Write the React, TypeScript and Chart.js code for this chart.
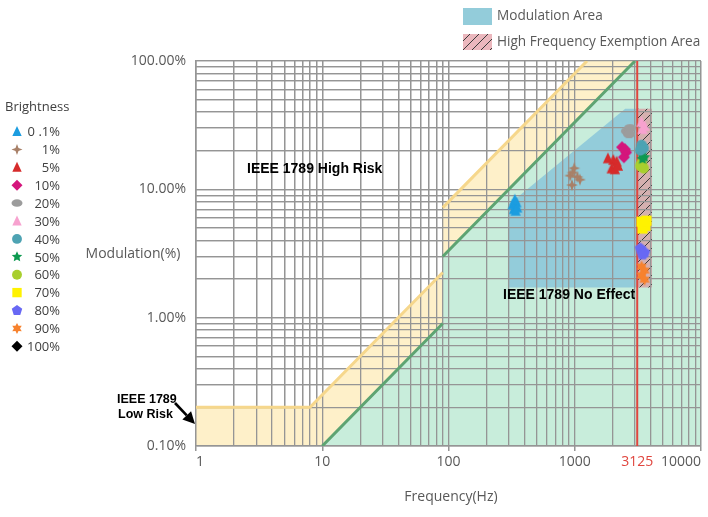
import React, { useEffect, useRef } from 'react';
import { Chart, registerables } from 'chart.js';

Chart.register(...registerables);

// ---------- axes ----------
const FREQ_GRID = [1, 2, 3, 4, 5, 6, 7, 8, 9, 10, 20, 30, 40, 50, 60, 70, 80, 90, 100, 200, 300, 400, 500, 600, 700, 800, 900, 1000, 2000, 3000, 4000, 5000, 6000, 7000, 8000, 9000, 10000];
const FREQ_LABELS = [1, 10, 100, 1000, 3125, 10000];
const EXEMPT_FREQ = 3125;
const MOD_GRID = [0.1, 0.2, 0.3, 0.4, 0.5, 0.6, 0.7, 0.8, 0.9, 1, 2, 3, 4, 5, 6, 7, 8, 9, 10, 20, 30, 40, 50, 60, 70, 80, 90, 100];
const MOD_LABELS = [0.1, 1, 10, 100];

// ---------- IEEE 1789 boundaries ----------
const lowRiskFreq = [1, 8, 90, 90, 90, 1250];
const lowRiskMod = [0.2, 0.2, 2.25, null, 7.2, 100];
const noEffectFreq = [10, 90, 90, 90, 3000];
const noEffectMod = [0.1, 0.9, null, 3, 100];
const lowRiskAreaFreq = [1, 8, 90, 90, 1250, 10000];
const lowRiskAreaMod = [0.2, 0.2, 2.25, 7.2, 100, 100];
const noEffectAreaFreq = [10, 90, 90, 3000, 10000];
const noEffectAreaMod = [0.1, 0.9, 3, 100, 100];
const exemptLineFreq = [3125, 3125];
const exemptLineMod = [0.1, 100];

// ---------- highlighted areas ----------
const modAreaFreq = [295, 2510, 3125];
const modAreaTop = [7.5, 42.5, 42.5];
const modAreaBottom = 1.72;
const exemptAreaFreq = [3125, 4100];
const exemptAreaTop = [42.5, 42.5];

// ---------- measured points [frequency Hz, modulation %] ----------
const b0_1 = [[322, 7.6], [335, 8.3], [345, 7.9], [330, 7.0], [350, 7.2], [340, 6.8]];
const b1 = [[990, 14.6], [920, 12.8], [1100, 11.9], [950, 10.8], [960, 13.5], [1050, 12.5]];
const b5 = [[1830, 17.4], [2020, 16.9], [2150, 16.4], [1960, 14.5], [2080, 14.3], [2200, 15.2]];
const b10 = [[2370, 21.3], [2550, 19.4], [2450, 17.8], [2500, 20.5]];
const b20 = [[2590, 28.4], [2740, 30.0], [2690, 26.9]];
const b30 = [[3380, 33.4], [3570, 31.1], [3440, 29.4]];
const b40 = [[3380, 22.1], [3510, 20.9], [3310, 20.2]];
const b50 = [[3380, 18.8], [3570, 17.8], [3440, 17.2]];
const b60 = [[3380, 16.0], [3510, 14.6], [3310, 15.2]];
const b70 = [[3380, 5.6], [3630, 5.2], [3440, 4.95], [3700, 5.7]];
const b80 = [[3310, 3.46], [3570, 3.22], [3440, 3.1]];
const b90 = [[3380, 2.5], [3570, 2.33], [3380, 2.13], [3570, 1.98]];
const b100: number[][] = [];

const brightnessLabels = ['0 .1%', '1%', '5%', '10%', '20%', '30%', '40%', '50%', '60%', '70%', '80%', '90%', '100%'];
const brightnessSeries = [b0_1, b1, b5, b10, b20, b30, b40, b50, b60, b70, b80, b90, b100];
const brightnessColors = ['#1C9DE0', '#A88068', '#D62B2B', '#D4157C', '#9C9C9C', '#F7A2CF', '#4EA3B3', '#0E9A50', '#A8CF2E', '#FFF200', '#6868F4', '#F7822E', '#000000'];
const brightnessShapes = ['triangle', 'star4', 'triangle', 'diamond', 'ellipse', 'triangle', 'circle', 'star5', 'circle', 'square', 'pentagon', 'star6', 'diamond'];

// ---------- styles ----------
const GRID = '#959595';
const YELLOW_FILL = '#FEF0C9';
const YELLOW_LINE = '#F6D78C';
const MINT = '#C8EDDB';
const GREEN_LINE = '#5EA472';
const BLUE = '#93CCDA';
const RED = '#E0463F';
const TEXT = '#595959';

const zip = (xs: number[], ys: (number | null)[]) => xs.map((x, i) => ({ x, y: ys[i] }));

function drawShape(ctx: CanvasRenderingContext2D, shape: string, cx: number, cy: number, s: number, color: string) {
  const r = s / 2;
  ctx.save();
  ctx.fillStyle = color;
  ctx.beginPath();
  const star = (n: number, inner: number) => {
    for (let i = 0; i < n * 2; i++) {
      const a = -Math.PI / 2 + (i * Math.PI) / n;
      const rr = i % 2 === 0 ? r : r * inner;
      const px = cx + rr * Math.cos(a);
      const py = cy + rr * Math.sin(a);
      if (i === 0) ctx.moveTo(px, py);
      else ctx.lineTo(px, py);
    }
  };
  switch (shape) {
    case 'triangle':
      ctx.moveTo(cx, cy - r);
      ctx.lineTo(cx + r * 0.85, cy + r * 0.8);
      ctx.lineTo(cx - r * 0.85, cy + r * 0.8);
      break;
    case 'diamond':
      ctx.moveTo(cx, cy - r);
      ctx.lineTo(cx + r, cy);
      ctx.lineTo(cx, cy + r);
      ctx.lineTo(cx - r, cy);
      break;
    case 'ellipse':
      ctx.ellipse(cx, cy, r, r * 0.68, 0, 0, Math.PI * 2);
      break;
    case 'circle':
      ctx.arc(cx, cy, r * 0.9, 0, Math.PI * 2);
      break;
    case 'square':
      ctx.rect(cx - r * 0.85, cy - r * 0.85, r * 1.7, r * 1.7);
      break;
    case 'pentagon':
      for (let i = 0; i < 5; i++) {
        const a = -Math.PI / 2 + (i * 2 * Math.PI) / 5;
        const px = cx + r * Math.cos(a);
        const py = cy + r * Math.sin(a);
        if (i === 0) ctx.moveTo(px, py);
        else ctx.lineTo(px, py);
      }
      break;
    case 'star4':
      star(4, 0.38);
      break;
    case 'star5':
      star(5, 0.48);
      break;
    case 'star6':
      star(6, 0.55);
      break;
  }
  ctx.closePath();
  ctx.fill();
  ctx.restore();
}

function makeIcon(shape: string, color: string, size: number) {
  const c = document.createElement('canvas');
  c.width = size + 2;
  c.height = size + 2;
  const ctx = c.getContext('2d')!;
  drawShape(ctx, shape, c.width / 2, c.height / 2, size, color);
  return c;
}

function makeHatch(ctx: CanvasRenderingContext2D) {
  const c = document.createElement('canvas');
  c.width = 9;
  c.height = 9;
  const p = c.getContext('2d')!;
  p.fillStyle = 'rgba(222,135,145,0.6)';
  p.fillRect(0, 0, 9, 9);
  p.strokeStyle = '#3a3a3a';
  p.lineWidth = 1;
  p.beginPath();
  p.moveTo(-1, 10);
  p.lineTo(10, -1);
  p.stroke();
  return ctx.createPattern(c, 'repeat')!;
}

export default function App() {
  const ref = useRef<HTMLCanvasElement>(null);

  useEffect(() => {
    const canvas = ref.current!;
    const ctx0 = canvas.getContext('2d')!;
    const hatch = makeHatch(ctx0);

    const pointSets = brightnessSeries.map((pts, i) => ({
      type: 'line' as const,
      label: brightnessLabels[i],
      data: pts.map(([x, y]) => ({ x, y })),
      showLine: false,
      pointStyle: makeIcon(brightnessShapes[i], brightnessColors[i], 12),
      pointRadius: 6,
      backgroundColor: brightnessColors[i],
      borderColor: brightnessColors[i],
      order: 0,
    }));

    const overlayPlugin = {
      id: 'overlay',
      afterDatasetDraw(chart: any, args: any) {
        if (args.index === 3) {
          chart.scales.x.drawGrid(chart.chartArea);
          chart.scales.y.drawGrid(chart.chartArea);
          chart.scales.x.drawBorder();
          chart.scales.y.drawBorder();
        }
      },
      afterDraw(chart: any) {
        const ctx: CanvasRenderingContext2D = chart.ctx;
        ctx.save();
        ctx.textBaseline = 'middle';
        ctx.font = '14px "Open Sans"';
        ctx.fillStyle = TEXT;
        ctx.textAlign = 'center';
        ctx.fillText('Modulation(%)', 133, 254);
        ctx.fillText('Frequency(Hz)', 451, 497);

        // top legend
        ctx.fillStyle = BLUE;
        ctx.fillRect(463, 8, 29, 17);
        ctx.fillStyle = hatch;
        ctx.fillRect(463, 34, 29, 16);
        ctx.font = '13.6px "Open Sans"';
        ctx.fillStyle = TEXT;
        ctx.textAlign = 'left';
        ctx.fillText('Modulation Area', 497, 16);
        ctx.fillText('High Frequency Exemption Area', 497, 42);

        // brightness legend
        ctx.font = '13px "Open Sans"';
        ctx.fillStyle = '#404040';
        ctx.fillText('Brightness', 5, 107);
        brightnessLabels.forEach((lab, i) => {
          const y = 131.5 + i * 17.9;
          drawShape(ctx, brightnessShapes[i], 17, y, 11, brightnessColors[i]);
          ctx.fillStyle = '#404040';
          ctx.textAlign = 'right';
          ctx.fillText(lab, 60, y + 1);
        });

        // annotations
        ctx.fillStyle = '#000';
        ctx.textAlign = 'left';
        ctx.font = 'bold 14px "Liberation Sans", Arial, sans-serif';
        ctx.fillText('IEEE 1789 High Risk', 247, 169);
        ctx.fillText('IEEE 1789 No Effect', 503, 295);
        ctx.font = 'bold 12.5px "Liberation Sans", Arial, sans-serif';
        ctx.fillText('IEEE 1789', 117, 400);
        ctx.fillText('Low Risk', 118, 415);

        // arrow
        const x1 = 175, y1 = 403, x2 = 195, y2 = 424;
        const dx = x2 - x1, dy = y2 - y1;
        const len = Math.hypot(dx, dy);
        const ux = dx / len, uy = dy / len;
        const hl = 12, hw = 6;
        ctx.strokeStyle = '#000';
        ctx.lineWidth = 2.6;
        ctx.beginPath();
        ctx.moveTo(x1, y1);
        ctx.lineTo(x2 - ux * hl, y2 - uy * hl);
        ctx.stroke();
        ctx.beginPath();
        ctx.moveTo(x2, y2);
        ctx.lineTo(x2 - ux * hl - uy * hw, y2 - uy * hl + ux * hw);
        ctx.lineTo(x2 - ux * hl + uy * hw, y2 - uy * hl - ux * hw);
        ctx.closePath();
        ctx.fill();
        ctx.restore();
      },
    };

    const chart = new Chart(canvas, {
      type: 'line',
      data: {
        datasets: [
          { type: 'line', label: 'lowRiskArea', data: zip(lowRiskAreaFreq, lowRiskAreaMod), fill: 'start', backgroundColor: YELLOW_FILL, borderWidth: 0, pointRadius: 0, order: 9 },
          { type: 'line', label: 'noEffectArea', data: zip(noEffectAreaFreq, noEffectAreaMod), fill: 'start', backgroundColor: MINT, borderWidth: 0, pointRadius: 0, order: 8 },
          { type: 'line', label: 'Modulation Area', data: zip(modAreaFreq, modAreaTop), fill: { value: modAreaBottom }, backgroundColor: BLUE, borderWidth: 0, pointRadius: 0, order: 7 },
          { type: 'line', label: 'High Frequency Exemption Area', data: zip(exemptAreaFreq, exemptAreaTop), fill: { value: modAreaBottom }, backgroundColor: hatch, borderWidth: 0, pointRadius: 0, order: 6 },
          { type: 'line', label: 'lowRisk', data: zip(lowRiskFreq, lowRiskMod), fill: false, borderColor: YELLOW_LINE, borderWidth: 3, pointRadius: 0, order: 5 },
          { type: 'line', label: 'noEffect', data: zip(noEffectFreq, noEffectMod), fill: false, borderColor: GREEN_LINE, borderWidth: 3, pointRadius: 0, order: 4 },
          { type: 'line', label: 'exempt', data: zip(exemptLineFreq, exemptLineMod), fill: false, borderColor: RED, borderWidth: 2, pointRadius: 0, order: 3 },
          ...pointSets,
        ] as any,
      },
      options: {
        responsive: false,
        animation: false,
        devicePixelRatio: 1,
        layout: { padding: { top: 61, right: 7, left: 0, bottom: 0 } },
        plugins: { legend: { display: false }, tooltip: { enabled: false } },
        scales: {
          x: {
            type: 'logarithmic',
            min: 1,
            max: 10000,
            afterFit: (s: any) => { s.height = 71; },
            afterBuildTicks: (s: any) => {
              s.ticks = [...FREQ_GRID, EXEMPT_FREQ].sort((a, b) => a - b).map((v) => ({ value: v }));
            },
            grid: {
              color: (c: any) => (c.tick && c.tick.value === EXEMPT_FREQ ? 'rgba(0,0,0,0)' : GRID),
              lineWidth: 1.3,
              tickLength: 5,
              tickColor: (c: any) => (c.tick && FREQ_LABELS.includes(c.tick.value) && c.tick.value !== EXEMPT_FREQ ? GRID : 'rgba(0,0,0,0)'),
            },
            border: { color: GRID, width: 1.3 },
            ticks: {
              autoSkip: false,
              maxRotation: 0,
              minRotation: 0,
              align: 'inner',
              padding: 3,
              font: { family: '"Open Sans"', size: 14 },
              color: (c: any) => (c.tick && c.tick.value === EXEMPT_FREQ ? RED : TEXT),
              callback: (v: any) => (FREQ_LABELS.includes(Number(v)) ? String(v) : ''),
            },
          },
          y: {
            type: 'logarithmic',
            min: 0.1,
            max: 100,
            afterFit: (s: any) => { s.width = 196; },
            afterBuildTicks: (s: any) => {
              s.ticks = MOD_GRID.map((v) => ({ value: v }));
            },
            grid: { color: GRID, lineWidth: 1.3, drawTicks: false },
            border: { color: GRID, width: 1.3 },
            ticks: {
              autoSkip: false,
              padding: 10,
              font: { family: '"Open Sans"', size: 14 },
              color: TEXT,
              callback: (v: any) => (MOD_LABELS.includes(Number(v)) ? Number(v).toFixed(2) + '%' : ''),
            },
          },
        },
      } as any,
      plugins: [overlayPlugin],
    });
    return () => chart.destroy();
  }, []);

  return (
    <div style={{ position: 'absolute', left: 0, top: 0, width: 708, height: 517, background: '#fff' }}>
      <canvas ref={ref} width={708} height={517} style={{ display: 'block' }} />
    </div>
  );
}
